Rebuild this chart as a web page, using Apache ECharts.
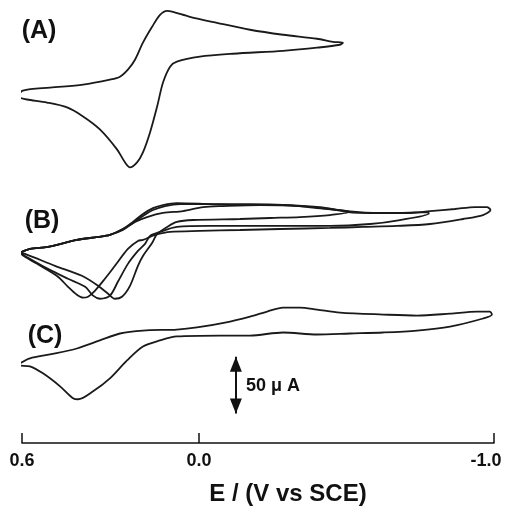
<!DOCTYPE html>
<html>
<head>
<meta charset="utf-8">
<script src="https://cdn.jsdelivr.net/npm/echarts@6.0.0/dist/echarts.min.js"></script>
<style>
  html, body { margin: 0; padding: 0; background: #fff; }
  #cv { width: 508px; height: 511px; }
</style>
</head>
<body>
<div id="cv"></div>
<script>
// potential E (V vs SCE), current i (uA) relative to each trace's own baseline
const cvA = [
  [0.614, 5.0], [0.597, 10.3], [0.505, 12.9], [0.393, 15.5], [0.302, 19.9], [0.268, 22.5],
  [0.241, 28.7], [0.217, 37.4], [0.190, 52.4], [0.159, 66.4], [0.132, 76.9], [0.108, 80.4],
  [0.088, 79.5], [0.031, 75.2], [-0.061, 69.9], [-0.173, 63.8], [-0.285, 59.4], [-0.400, 55.9],
  [-0.454, 53.2], [-0.488, 52.4],
  [-0.478, 50.6], [-0.400, 48.0], [-0.285, 45.3], [-0.115, 42.7], [-0.003, 40.1], [0.075, 35.7],
  [0.098, 31.3], [0.122, 17.3], [0.142, -3.8], [0.166, -26.6], [0.190, -44.1], [0.210, -52.9],
  [0.234, -57.3], [0.251, -52.9], [0.278, -41.5], [0.336, -23.9], [0.393, -12.5], [0.447, -4.6],
  [0.515, -0.3], [0.583, 2.4], [0.610, 4.1], [0.614, 5.0]
]

const cvB1 = [
  [0.607, -22.6], [0.573, -19.1], [0.512, -17.4], [0.414, -11.2], [0.342, -8.6], [0.302, -6.8],
  [0.258, -1.6], [0.224, 4.6], [0.190, 11.6], [0.156, 16.8], [0.122, 19.5], [0.075, 21.2],
  [-0.037, 20.3], [-0.139, 19.5], [-0.285, 19.5], [-0.400, 16.8], [-0.505, 14.2],
  [-0.507, 13.3], [-0.444, 10.7], [-0.342, 8.9], [-0.241, 8.1], [-0.139, 7.2], [0.020, 6.3],
  [0.075, 4.6], [0.108, 0.2], [0.142, -6.0], [0.159, -13.9], [0.190, -25.3], [0.207, -34.0],
  [0.234, -51.6], [0.261, -61.2], [0.285, -63.0], [0.308, -58.6], [0.342, -51.6], [0.397, -42.8],
  [0.488, -34.0], [0.590, -23.5], [0.607, -22.6]
]

const cvB2 = [
  [0.607, -22.6], [0.573, -19.1], [0.512, -17.4], [0.414, -11.2], [0.342, -8.6], [0.302, -6.8],
  [0.258, -2.5], [0.217, 4.6], [0.176, 8.9], [0.122, 12.5], [0.054, 14.2], [-0.014, 17.7],
  [-0.081, 18.6], [-0.207, 19.5], [-0.342, 18.6], [-0.444, 16.0], [-0.505, 13.3], [-0.580, 12.5],
  [-0.681, 12.5], [-0.776, 13.3],
  [-0.779, 12.0], [-0.681, 6.3], [-0.580, 2.8], [-0.444, 1.1], [-0.275, 1.1], [-0.139, 1.1],
  [-0.037, 1.1], [0.075, 0.2], [0.132, -4.2], [0.166, -7.7], [0.183, -14.7], [0.207, -20.9],
  [0.241, -32.3], [0.275, -48.1], [0.302, -60.3], [0.336, -63.0], [0.359, -60.3], [0.386, -52.5],
  [0.444, -45.4], [0.512, -36.7], [0.590, -25.3], [0.607, -22.6]
]

const cvB3 = [
  [0.607, -22.6], [0.573, -19.1], [0.512, -17.4], [0.414, -11.2], [0.342, -8.6], [0.302, -6.8],
  [0.258, -1.6], [0.224, 3.7], [0.190, 9.8], [0.156, 15.1], [0.115, 18.6], [0.064, 20.3],
  [-0.037, 20.3], [-0.173, 20.3], [-0.308, 19.5], [-0.410, 17.7], [-0.502, 14.2], [-0.614, 12.5],
  [-0.715, 12.5], [-0.783, 14.2], [-0.868, 16.0], [-0.936, 17.7], [-0.976, 17.7], [-0.988, 15.1],
  [-0.963, 10.7], [-0.895, 7.2], [-0.783, 2.8], [-0.671, 1.1], [-0.556, 0.2], [-0.444, -0.7],
  [-0.275, -1.6], [-0.139, -2.5], [-0.003, -3.3], [0.098, -4.2], [0.149, -6.8], [0.166, -8.6],
  [0.190, -11.2], [0.207, -12.1], [0.241, -19.1], [0.285, -34.0], [0.319, -45.4], [0.353, -56.0],
  [0.376, -61.2], [0.393, -62.1], [0.414, -59.5], [0.444, -52.5], [0.478, -43.7], [0.532, -34.9],
  [0.590, -26.1], [0.607, -22.6]
]

const cvC = [
  [0.607, -14.9], [0.573, -10.5], [0.505, -7.0], [0.414, -1.8], [0.336, 5.3], [0.268, 11.4],
  [0.190, 14.0], [0.075, 14.9], [0.007, 16.7], [-0.088, 21.0], [-0.173, 26.3], [-0.231, 30.7],
  [-0.285, 34.2], [-0.342, 34.2], [-0.400, 32.4], [-0.478, 29.8], [-0.624, 28.1], [-0.739, 27.2],
  [-0.851, 28.9], [-0.942, 30.7], [-0.986, 30.7], [-0.993, 28.1],
  [-0.963, 24.6], [-0.851, 17.5], [-0.739, 14.0], [-0.624, 12.3], [-0.512, 11.4], [-0.400, 10.5],
  [-0.285, 12.3], [-0.173, 9.6], [-0.071, 9.6], [0.075, 8.8], [0.132, 5.3], [0.190, 0],
  [0.244, -12.3], [0.302, -28.1], [0.359, -39.5], [0.410, -46.5], [0.427, -45.6], [0.471, -35.1],
  [0.529, -23.7], [0.573, -17.5], [0.607, -16.7], [0.607, -14.9]
]

const xTicks = [-1.0, 0.0, 0.6]

// vertical placement of each trace (uA, on the hidden current axis)
const offsetA = 300
const offsetB = 190
const offsetC = 85

// 50 uA scale bar
const scaleE = -0.125
const scaleMid = 51
const scaleSpan = 50

const lineColor = '#1a1a1a'
const font = '"Liberation Sans", Arial, Helvetica, sans-serif'

function shift(arr, off) {
  return arr.map(p => [p[0], p[1] + off])
}

function trace(name, arr, off) {
  return {
    name,
    type: 'line',
    data: shift(arr, off),
    showSymbol: false,
    symbol: 'none',
    smooth: 0.3,
    clip: false,
    silent: true,
    lineStyle: { color: lineColor, width: 1.8 },
  }
}

const seriesC = trace('C', cvC, offsetC)
seriesC.markLine = {
  silent: true,
  symbol: ['triangle', 'triangle'],
  symbolSize: [12, 15],
  symbolOffset: [[0, '50%'], [0, '50%']],
  lineStyle: { color: '#111', width: 2, type: 'solid' },
  label: { show: false },
  data: [[
    { coord: [scaleE, scaleMid - scaleSpan / 2] },
    { coord: [scaleE, scaleMid + scaleSpan / 2] },
  ]],
}

const chart = echarts.init(document.getElementById('cv'))

const option = {
  animation: false,
  backgroundColor: '#fff',
  grid: { left: 22, right: 14, top: 0, bottom: 66 },
  xAxis: {
    type: 'value',
    min: -1.0,
    max: 0.6,
    inverse: true,
    splitLine: { show: false },
    axisLine: { show: true, lineStyle: { color: '#111', width: 1.5 } },
    axisTick: {
      show: true,
      inside: true,
      length: 10,
      customValues: xTicks,
      lineStyle: { color: '#111', width: 1.5 },
    },
    axisLabel: {
      customValues: xTicks,
      margin: 9,
      color: '#111',
      fontFamily: font,
      fontWeight: 'bold',
      fontSize: 18,
      formatter: v => (v === -1 ? '{neg|-1.0}' : v.toFixed(1)),
      rich: {
        neg: {
          fontFamily: font,
          fontWeight: 'bold',
          fontSize: 18,
          color: '#111',
          padding: [0, 16, 0, 0],
        },
      },
    },
    name: 'E / (V vs SCE)',
    nameLocation: 'middle',
    nameGap: 39,
    nameTextStyle: {
      color: '#111',
      fontFamily: font,
      fontWeight: 'bold',
      fontSize: 24,
      padding: [0, 0, 0, 60],
    },
  },
  yAxis: {
    type: 'value',
    min: 0,
    max: 390,
    show: false,
  },
  graphic: [
    { type: 'text', x: 39, y: 31, style: { text: '(A)', font: 'bold 25px ' + font, fill: '#111', textAlign: 'center', textVerticalAlign: 'middle', align: 'center', verticalAlign: 'middle' } },
    { type: 'text', x: 42, y: 221, style: { text: '(B)', font: 'bold 25px ' + font, fill: '#111', textAlign: 'center', textVerticalAlign: 'middle', align: 'center', verticalAlign: 'middle' } },
    { type: 'text', x: 45, y: 336, style: { text: '(C)', font: 'bold 25px ' + font, fill: '#111', textAlign: 'center', textVerticalAlign: 'middle', align: 'center', verticalAlign: 'middle' } },
    { type: 'text', x: 246, y: 386, style: { text: '50 μ A', font: 'bold 18px ' + font, fill: '#111', textAlign: 'left', textVerticalAlign: 'middle', align: 'left', verticalAlign: 'middle' } },
  ],
  series: [
    trace('A', cvA, offsetA),
    trace('B1', cvB1, offsetB),
    trace('B2', cvB2, offsetB),
    trace('B3', cvB3, offsetB),
    seriesC,
  ],
}

chart.setOption(option)
</script>
</body>
</html>
